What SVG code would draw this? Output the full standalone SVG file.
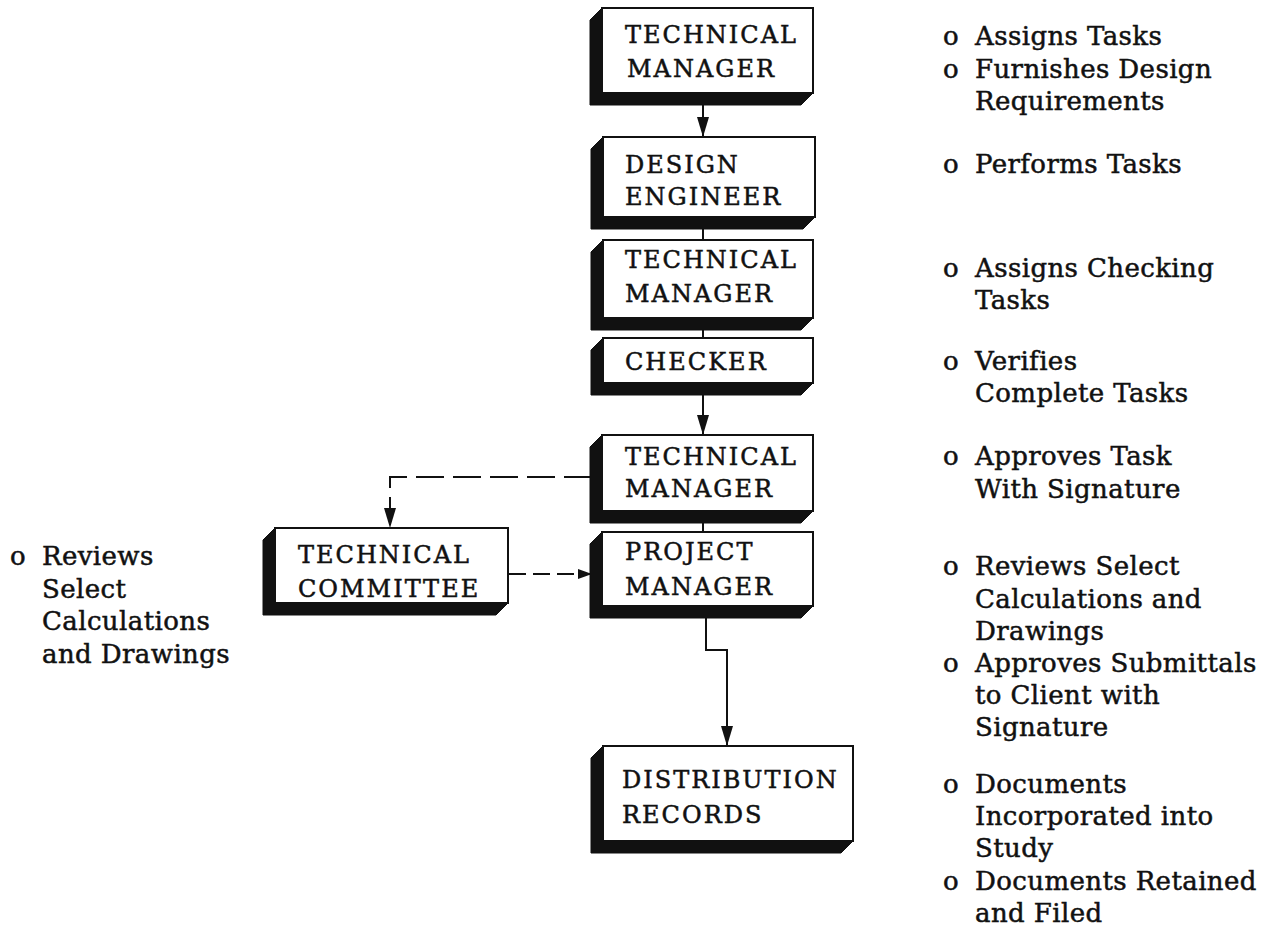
<svg xmlns="http://www.w3.org/2000/svg" width="1272" height="930" viewBox="0 0 1272 930">
  <defs>
    <style>
      .face { fill: #ffffff; stroke: #111; stroke-width: 2; }
      .depth { fill: #111; stroke: #111; stroke-width: 1; stroke-linejoin: round; }
      .lbl { font-family: "DejaVu Serif", "Liberation Serif", serif; font-size: 24px; letter-spacing: 2px; fill: #111; stroke: #111; stroke-width: 0.5; }
      .note { font-family: "DejaVu Serif", "Liberation Serif", serif; font-size: 26px; letter-spacing: 0.4px; fill: #111; stroke: #111; stroke-width: 0.5; }
      .wire { fill: none; stroke: #111; stroke-width: 2; }
      .dash { fill: none; stroke: #111; stroke-width: 2; stroke-dasharray: 28 9; }
      .dash2 { fill: none; stroke: #111; stroke-width: 2; stroke-dasharray: 17 7; }
    </style>
    <!-- filled arrowhead, drawn along +x so orient="auto" follows the line -->
    <marker id="head" markerUnits="userSpaceOnUse" markerWidth="20" markerHeight="12" refX="20" refY="6" orient="auto" viewBox="0 0 20 12">
      <path d="M0 0 L20 6 L0 12 Z" fill="#111"/>
    </marker>
    <marker id="headS" markerUnits="userSpaceOnUse" markerWidth="14" markerHeight="10" refX="14" refY="5" orient="auto" viewBox="0 0 14 10">
      <path d="M0 0 L14 5 L0 10 Z" fill="#111"/>
    </marker>
  </defs>

  <!-- connectors -->
  <g id="connectors">
    <path class="wire" d="M703 105 V137" marker-end="url(#head)"/>
    <path class="wire" d="M703 228 V240"/>
    <path class="wire" d="M703 329 V338"/>
    <path class="wire" d="M703 394 V435" marker-end="url(#head)"/>
    <path class="wire" d="M703 522 V532"/>
    <path class="wire" d="M706 617 V650 H727 V746" marker-end="url(#head)"/>
    <path class="dash" d="M592 477 H390 V528" marker-end="url(#head)"/>
    <path class="dash2" d="M509 574 H592" marker-end="url(#headS)"/>
  </g>

  <!-- TECHNICAL MANAGER (assigns) -->
  <g id="tm1">
    <path class="depth" d="M602 8 L590 20 L590 105 L801 105 L813 93 L602 93 Z"/>
    <rect class="face" x="602" y="8" width="211" height="85"/>
    <text class="lbl" x="625" y="43">TECHNICAL</text>
    <text class="lbl" x="627" y="77">MANAGER</text>
  </g>

  <!-- DESIGN ENGINEER -->
  <g id="de">
    <path class="depth" d="M603 137 L591 149 L591 229 L803 229 L815 217 L603 217 Z"/>
    <rect class="face" x="603" y="137" width="212" height="80"/>
    <text class="lbl" x="625" y="173">DESIGN</text>
    <text class="lbl" x="625" y="205">ENGINEER</text>
  </g>

  <!-- TECHNICAL MANAGER (checking) -->
  <g id="tm2">
    <path class="depth" d="M603 240 L591 252 L591 330 L801 330 L813 318 L603 318 Z"/>
    <rect class="face" x="603" y="240" width="210" height="78"/>
    <text class="lbl" x="625" y="268">TECHNICAL</text>
    <text class="lbl" x="625" y="302">MANAGER</text>
  </g>

  <!-- CHECKER -->
  <g id="checker">
    <path class="depth" d="M603 338 L591 350 L591 395 L801 395 L813 383 L603 383 Z"/>
    <rect class="face" x="603" y="338" width="210" height="45"/>
    <text class="lbl" x="625" y="370">CHECKER</text>
  </g>

  <!-- TECHNICAL MANAGER (approval) -->
  <g id="tm3">
    <path class="depth" d="M602 435 L590 447 L590 523 L801 523 L813 511 L602 511 Z"/>
    <rect class="face" x="602" y="435" width="211" height="76"/>
    <text class="lbl" x="625" y="465">TECHNICAL</text>
    <text class="lbl" x="625" y="497">MANAGER</text>
  </g>

  <!-- PROJECT MANAGER -->
  <g id="pm">
    <path class="depth" d="M602 532 L590 544 L590 618 L801 618 L813 606 L602 606 Z"/>
    <rect class="face" x="602" y="532" width="211" height="74"/>
    <text class="lbl" x="625" y="560">PROJECT</text>
    <text class="lbl" x="625" y="595">MANAGER</text>
  </g>

  <!-- TECHNICAL COMMITTEE -->
  <g id="tc">
    <path class="depth" d="M275 528 L263 540 L263 615 L496 615 L508 603 L275 603 Z"/>
    <rect class="face" x="275" y="528" width="233" height="75"/>
    <text class="lbl" x="298" y="563">TECHNICAL</text>
    <text class="lbl" x="298" y="597">COMMITTEE</text>
  </g>

  <!-- DISTRIBUTION RECORDS -->
  <g id="dr">
    <path class="depth" d="M603 746 L591 758 L591 853 L841 853 L853 841 L603 841 Z"/>
    <rect class="face" x="603" y="746" width="250" height="95"/>
    <text class="lbl" x="622" y="788">DISTRIBUTION</text>
    <text class="lbl" x="622" y="823">RECORDS</text>
  </g>

  <!-- committee duties -->
  <g id="notes-left" class="note">
    <text x="10" y="565">o</text>
    <text x="42" y="565">Reviews</text>
    <text x="42" y="598">Select</text>
    <text x="42" y="630">Calculations</text>
    <text x="42" y="663">and Drawings</text>
  </g>

  <!-- duties per step -->
  <g id="notes-right" class="note">
    <text x="943" y="45">o</text>
    <text x="975" y="45">Assigns Tasks</text>
    <text x="943" y="78">o</text>
    <text x="975" y="78">Furnishes Design</text>
    <text x="975" y="110">Requirements</text>

    <text x="943" y="173">o</text>
    <text x="975" y="173">Performs Tasks</text>

    <text x="943" y="277">o</text>
    <text x="975" y="277">Assigns Checking</text>
    <text x="975" y="309">Tasks</text>

    <text x="943" y="370">o</text>
    <text x="975" y="370">Verifies</text>
    <text x="975" y="402">Complete Tasks</text>

    <text x="943" y="465">o</text>
    <text x="975" y="465">Approves Task</text>
    <text x="975" y="498">With Signature</text>

    <text x="943" y="575">o</text>
    <text x="975" y="575">Reviews Select</text>
    <text x="975" y="608">Calculations and</text>
    <text x="975" y="640">Drawings</text>
    <text x="943" y="672">o</text>
    <text x="975" y="672">Approves Submittals</text>
    <text x="975" y="704">to Client with</text>
    <text x="975" y="736">Signature</text>

    <text x="943" y="793">o</text>
    <text x="975" y="793">Documents</text>
    <text x="975" y="825">Incorporated into</text>
    <text x="975" y="857">Study</text>
    <text x="943" y="890">o</text>
    <text x="975" y="890">Documents Retained</text>
    <text x="975" y="922">and Filed</text>
  </g>
</svg>
